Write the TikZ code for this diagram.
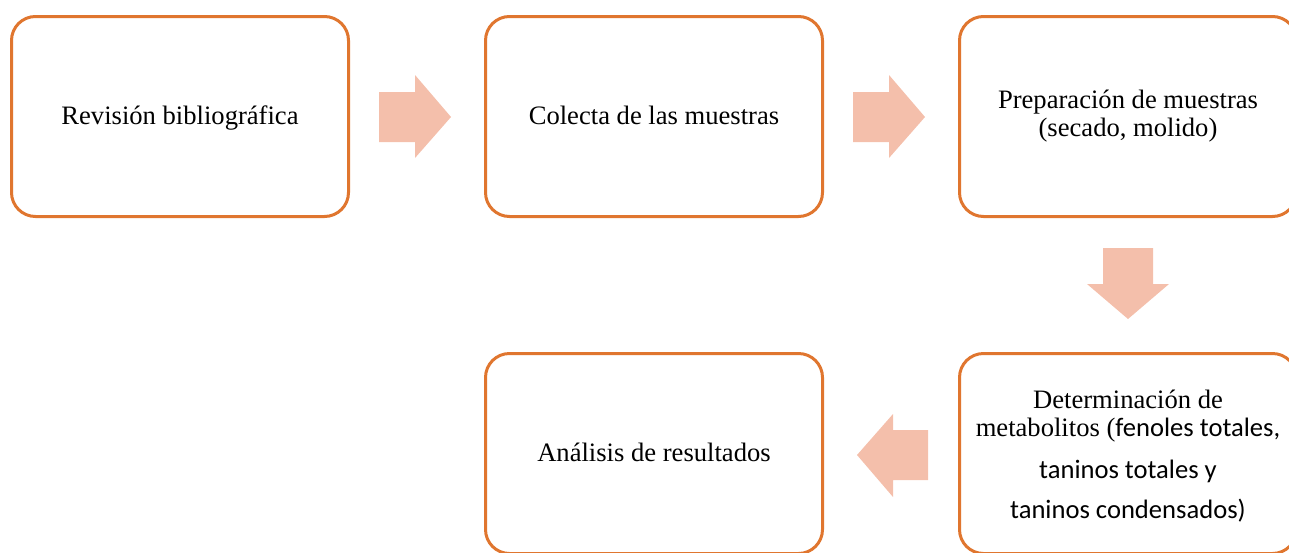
\documentclass[tikz,border=0pt]{standalone}
\usepackage{fontspec}
\setmainfont{Liberation Serif}
\newfontfamily\calib{Carlito}
\definecolor{boxorange}{HTML}{E0762F}
\definecolor{arrowfill}{HTML}{F4BFAB}
\begin{document}
\begin{tikzpicture}[x=1pt,y=-1pt,
  stepbox/.style={draw=boxorange, line width=3pt, rounded corners=24pt, fill=white,
    minimum width=337pt, minimum height=200pt, inner sep=0pt, align=center,
    font=\fontsize{26.6}{28}\selectfont},
  oneline/.style={text height=20pt, text depth=5pt},
  steptext/.style={font=\fontsize{26.6}{28}\selectfont, anchor=base, inner sep=0pt},
  blockarrow/.style={fill=arrowfill, draw=none}]
\useasboundingbox (0,0) rectangle (1289,552);
\begin{scope}
\clip (0,0) rectangle (1289,552);
\node[stepbox, oneline] (b1) at (180,116.5) {Revisión bibliográfica};
\node[stepbox, oneline] (b2) at (654,116.5) {Colecta de las muestras};
\node[stepbox] (b3) at (1128,116.5) {Preparación de muestras\\(secado, molido)};
\node[stepbox] (b4) at (1128,453.5) {};
\node[stepbox, oneline] (b5) at (654,453.5) {Análisis de resultados};
\end{scope}
\node[steptext] (t4a) at (1128,408) {Determinación de};
\node[steptext] (t4b) at (1128,436) {metabolitos (\calib fenoles totales,};
\node[steptext, font=\calib\fontsize{26.6}{28}\selectfont] (t4c) at (1128,478) {taninos totales y};
\node[steptext, font=\calib\fontsize{26.6}{28}\selectfont] (t4d) at (1128,518) {taninos condensados)};
% arrows
\fill[blockarrow] (379,92) -- (415,92) -- (415,75) -- (451,117) -- (415,158) -- (415,142) -- (379,142) -- cycle;
\fill[blockarrow] (853,92) -- (889,92) -- (889,75) -- (925,117) -- (889,158) -- (889,142) -- (853,142) -- cycle;
\fill[blockarrow] (1103,248) -- (1153,248) -- (1153,284) -- (1169,284) -- (1128,319) -- (1087,284) -- (1103,284) -- cycle;
\fill[blockarrow] (928,430) -- (893,430) -- (893,414) -- (857,455) -- (893,497) -- (893,480) -- (928,480) -- cycle;
\end{tikzpicture}
\end{document}
